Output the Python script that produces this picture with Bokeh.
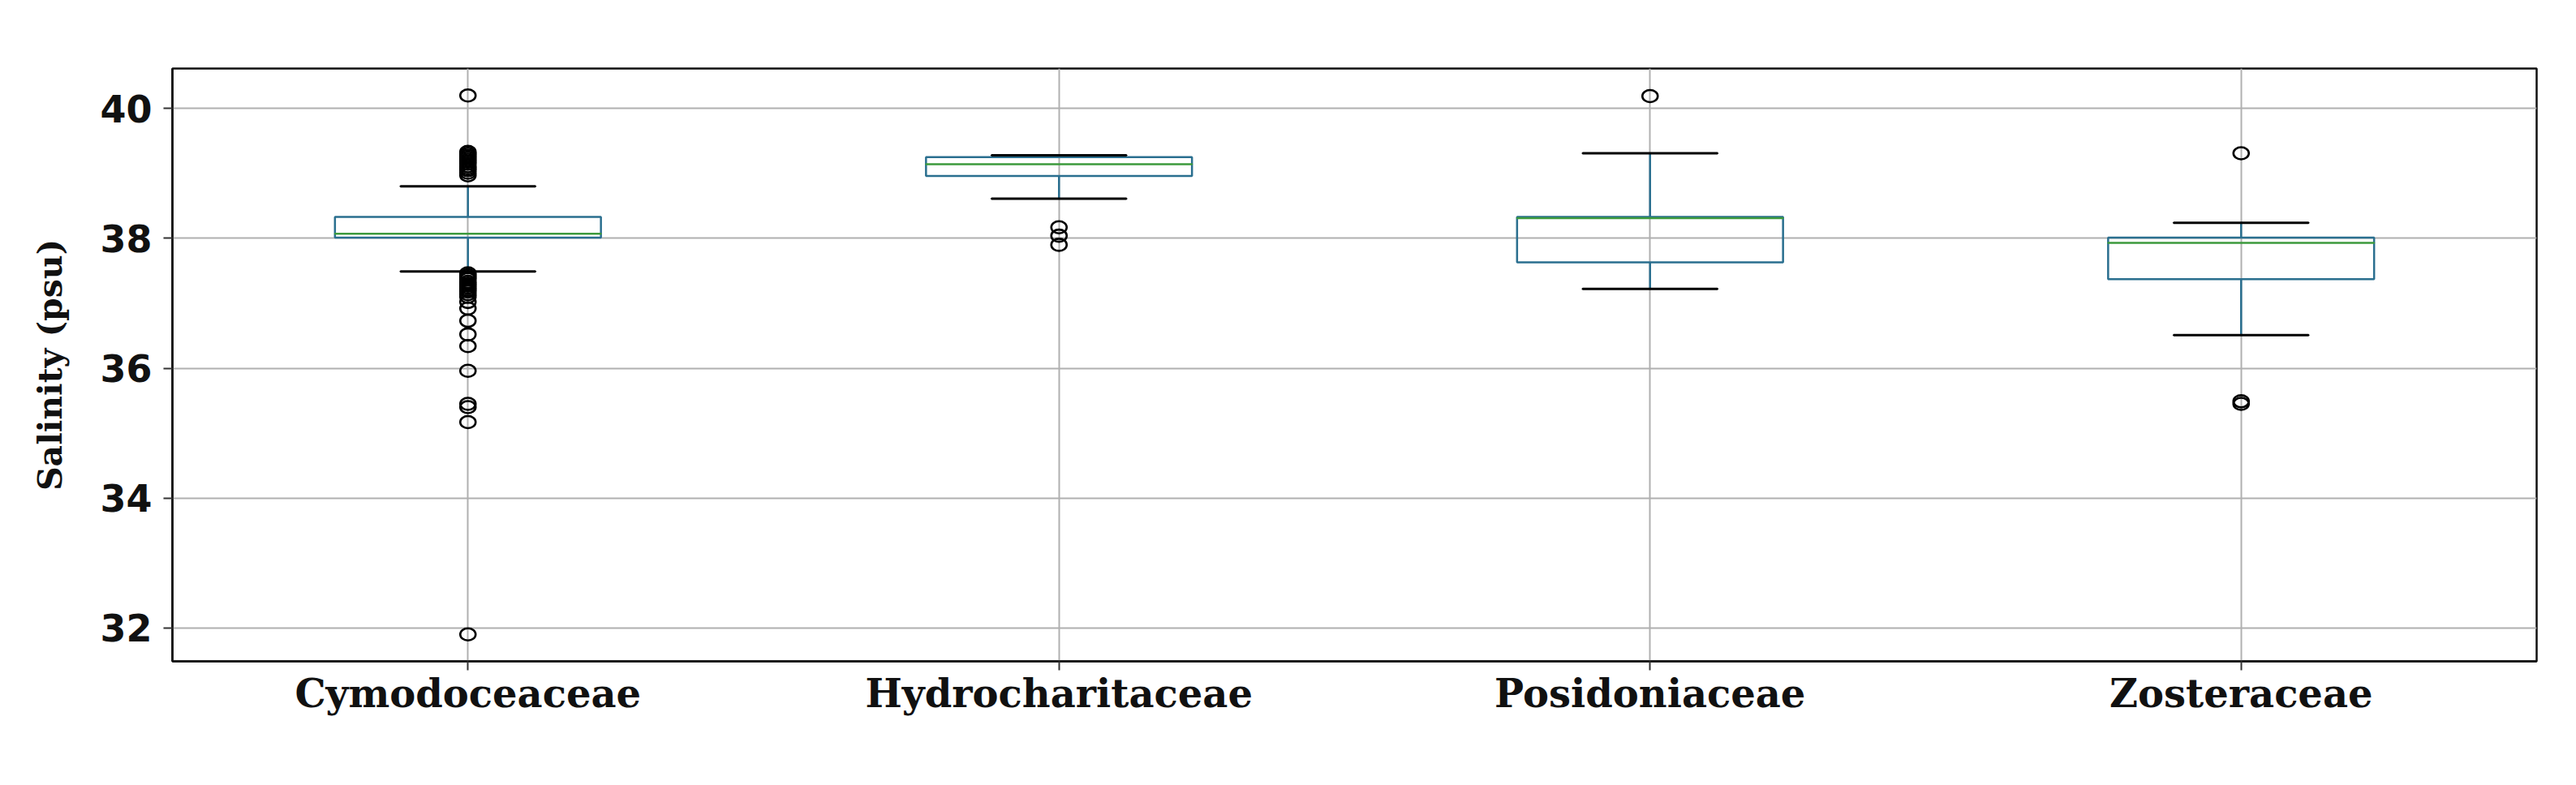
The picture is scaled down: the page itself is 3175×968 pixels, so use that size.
from bokeh.plotting import figure
from bokeh.models import FactorRange, Range1d, FixedTicker, ColumnDataSource
from bokeh.embed import file_html
from bokeh.resources import INLINE

# ---------------- data ----------------
categories = ["Cymodoceaceae", "Hydrocharitaceae", "Posidoniaceae", "Zosteraceae"]
q1 = [38.01, 38.96, 37.63, 37.37]
q3 = [38.33, 39.25, 38.33, 38.01]
medians = [38.07, 39.14, 38.31, 37.93]
whisker_low = [37.49, 38.61, 37.22, 36.51]
whisker_high = [38.80, 39.28, 39.31, 38.24]

outliers_cymodoceaceae = [40.20, 39.33, 39.30, 39.27, 39.24, 39.21, 39.18, 39.15, 39.11,
                          39.08, 39.05, 39.01, 38.97,
                          37.46, 37.43, 37.40, 37.37, 37.33, 37.30, 37.27, 37.24, 37.21,
                          37.18, 37.14, 37.10, 37.02, 36.92, 36.73, 36.52, 36.34, 35.96,
                          35.45, 35.40, 35.17, 31.90]
outliers_hydrocharitaceae = [38.17, 38.04, 37.90]
outliers_posidoniaceae = [40.19]
outliers_zosteraceae = [39.31, 35.49, 35.45]

y_ticks = [32, 34, 36, 38, 40]
y_label = "Salinity (psu)"

# ---------------- figure ----------------
p = figure(
    x_range=FactorRange(*categories, range_padding=0),
    y_range=Range1d(31.485, 40.615),
    width=3159, height=952,
    output_backend="svg", toolbar_location=None,
    min_border_left=212, min_border_right=33,
    min_border_top=84, min_border_bottom=137,
    background_fill_color="white", border_fill_color="white",
)

p.outline_line_color = "#111111"
p.outline_line_width = 2.5

# grids
for g in (p.xgrid, p.ygrid):
    g.grid_line_color = "#b0b0b0"
    g.grid_line_width = 2
p.yaxis.ticker = FixedTicker(ticks=y_ticks)

# axes styling
for ax in (p.xaxis, p.yaxis):
    ax.axis_line_color = "#111111"
    ax.axis_line_width = 2.5
    ax.major_tick_line_color = "#333333"
    ax.major_tick_line_width = 2
    ax.major_tick_out = 11
    ax.major_tick_in = 0
    ax.minor_tick_line_color = None

p.yaxis.major_label_text_font = "DejaVu Sans"
p.yaxis.major_label_text_font_style = "bold"
p.yaxis.major_label_text_font_size = "46px"
p.yaxis.major_label_text_color = "#111111"
p.yaxis.major_label_standoff = 14
p.yaxis.axis_label = y_label
p.yaxis.axis_label_text_font = "DejaVu Serif"
p.yaxis.axis_label_text_font_style = "bold"
p.yaxis.axis_label_text_font_size = "41px"
p.yaxis.axis_label_text_color = "#111111"
p.yaxis.axis_label_standoff = 34

p.xaxis.major_label_text_font = "DejaVu Serif"
p.xaxis.major_label_text_font_style = "bold"
p.xaxis.major_label_text_font_size = "48px"
p.xaxis.major_label_text_color = "#111111"
p.xaxis.major_label_standoff = 0

box_color = "#2a6f8f"
median_color = "#3c9a3c"
eps = 0.0001

src = ColumnDataSource(dict(cat=categories, q1=q1, q3=q3, med=medians,
                            lo=whisker_low, hi=whisker_high))

# whiskers
p.segment(x0="cat", y0="q3", x1="cat", y1="hi", source=src, line_color=box_color, line_width=2.5)
p.segment(x0="cat", y0="lo", x1="cat", y1="q1", source=src, line_color=box_color, line_width=2.5)
# boxes (unfilled)
p.vbar(x="cat", bottom="q1", top="q3", width=0.45, source=src,
       fill_alpha=0, line_color=box_color, line_width=2.5)
# caps
p.rect(x="cat", y="hi", width=0.228, height=eps, source=src, fill_alpha=0,
       line_color="black", line_width=3)
p.rect(x="cat", y="lo", width=0.228, height=eps, source=src, fill_alpha=0,
       line_color="black", line_width=3)
# medians
p.rect(x="cat", y="med", width=0.45, height=eps, source=src, fill_alpha=0,
       line_color=median_color, line_width=2.5)

# fliers
all_out = [outliers_cymodoceaceae, outliers_hydrocharitaceae,
           outliers_posidoniaceae, outliers_zosteraceae]
fx, fy = [], []
for c, vals in zip(categories, all_out):
    for v in vals:
        fx.append(c)
        fy.append(v)
p.ellipse(x=fx, y=fy, width=19, height=15, width_units="screen", height_units="screen",
          fill_alpha=0, line_color="black", line_width=2.6)

open("out.html", "w").write(file_html(p, INLINE))
